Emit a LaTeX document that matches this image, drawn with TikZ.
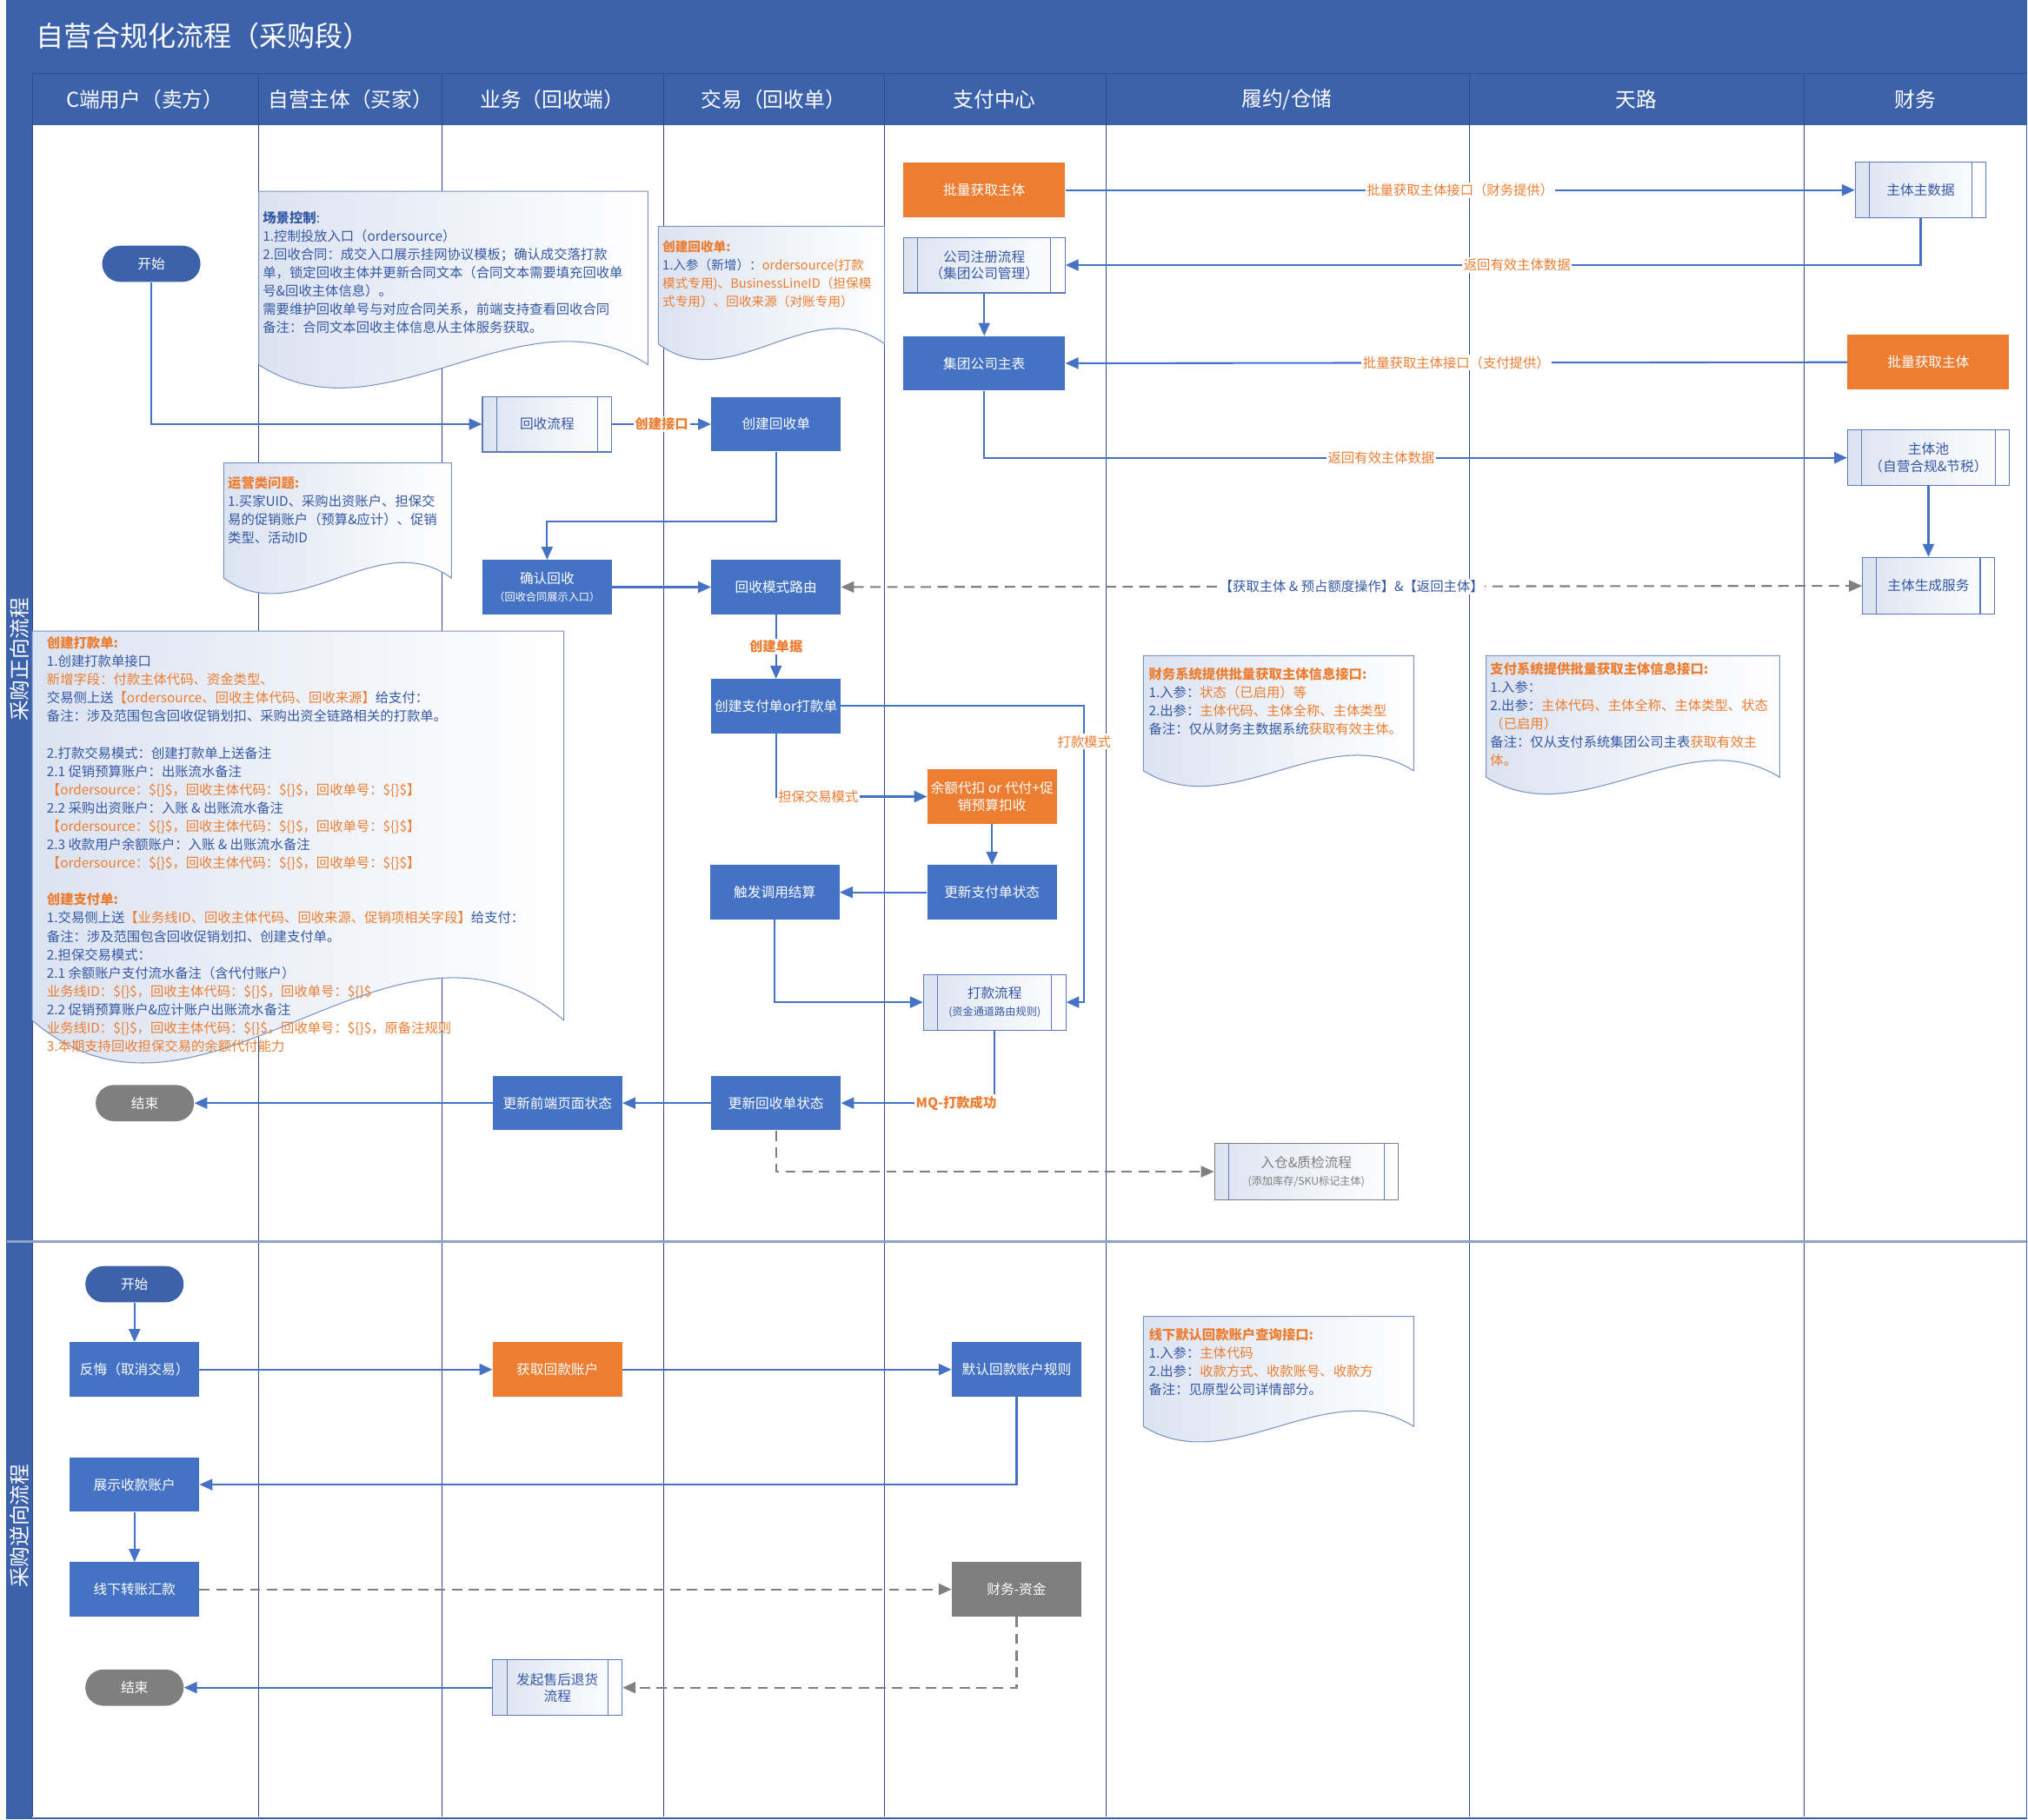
\documentclass[tikz,border=0pt]{standalone}
\usepackage{fontspec}
\setmainfont{Noto Sans CJK SC}
\usetikzlibrary{arrows.meta}
\definecolor{hdblue}{HTML}{3D62AC}
\definecolor{boxblue}{HTML}{4472C4}
\definecolor{boxorg}{HTML}{ED7D31}
\definecolor{boxgrey}{HTML}{7F7F7F}
\definecolor{colline}{HTML}{2F4B8C}
\definecolor{txtblue}{HTML}{3558A5}
\definecolor{txtorg}{HTML}{ED7D31}
\definecolor{notebd}{HTML}{7A92C6}
\definecolor{noteL}{HTML}{DCE3F1}
\definecolor{subbd}{HTML}{5B7BC0}
\definecolor{dashgrey}{HTML}{808080}
\definecolor{divcol}{HTML}{8FA2C6}
\newcommand{\ortx}[1]{\textcolor{txtorg}{#1}}
\newcommand{\docshape}[5]{%
  \pgfmathsetmacro\docW{#3-#1}%
  \pgfmathsetmacro\docB{#4-#5}%
  \pgfmathsetmacro\docC{3.46*#5}%
  \path[notebox] (#1,#2) -- (#3,#2) -- (#3,\docB) .. controls ({#1+0.68*\docW},{\docB-\docC}) and ({#1+0.32*\docW},{\docB+\docC}) .. (#1,\docB) -- cycle;}
\tikzset{
  blk/.style={rectangle, fill=boxblue, text=white, minimum width=3cm, minimum height=1.26cm, align=center, inner sep=1pt, font=\fontsize{9pt}{11pt}\selectfont},
  org/.style={blk, fill=boxorg},
  gry/.style={blk, fill=boxgrey},
  sub/.style={rectangle, draw=subbd, line width=0.6pt, left color=noteL, right color=white, text=txtblue, minimum width=3cm, minimum height=1.29cm, align=center, inner sep=1pt, font=\fontsize{9pt}{11pt}\selectfont,
    path picture={\draw[subbd, line width=0.6pt] ([xshift=0.33cm]path picture bounding box.north west) -- ([xshift=0.33cm]path picture bounding box.south west) ([xshift=-0.33cm]path picture bounding box.north east) -- ([xshift=-0.33cm]path picture bounding box.south east);}},
  term/.style={rectangle, rounded corners=0.42cm, fill=hdblue, text=white, minimum width=2.28cm, minimum height=0.84cm, font=\fontsize{9pt}{11pt}\selectfont},
  arr/.style={draw=boxblue, line width=1.2pt, -{Triangle[length=0.3cm,width=0.26cm]}},
  dsh/.style={draw=dashgrey, line width=1.2pt, dash pattern=on 0.24cm off 0.15cm, -{Triangle[length=0.3cm,width=0.26cm]}},
  lbl/.style={fill=white, text=txtorg, inner sep=1pt, font=\fontsize{8.8pt}{10pt}\selectfont},
  notebox/.style={draw=notebd, line width=0.6pt, left color=noteL, right color=white},
  ntxt/.style={anchor=north west, inner sep=0pt, align=left, text=txtblue, font=\fontsize{8.8pt}{12.1pt}\selectfont},
  hdtxt/.style={text=white, font=\fontsize{13.6pt}{16pt}\selectfont},
  small/.style={font=\fontsize{7pt}{8.5pt}\selectfont}
}
\begin{document}
\begin{tikzpicture}[x=0.03cm,y=-0.03cm]
\useasboundingbox (0,0) rectangle (1568,1407);
\fill[hdblue] (5,0) rectangle (1567,97);
\fill[hdblue] (5,97) rectangle (25,1406);
\draw[colline, line width=0.6pt] (25,57) -- (1567,57);
\foreach \cx in {25,200,342,513,684,855,1136,1395}
  \draw[colline, line width=0.7pt] (\cx,57) -- (\cx,1405);
\draw[divcol, line width=1.5pt] (5,960) -- (1567,960);
\draw[hdblue, line width=1pt] (5,0) rectangle (1567,1406);

\node[anchor=west, text=white, font=\fontsize{18.4pt}{21pt}\selectfont] (ttl) at (24,28) {自营合规化流程（采购段）};
\node[hdtxt] (hd1) at (112,77) {C端用户（卖方）};
\node[hdtxt] (hd2) at (271,77) {自营主体（买家）};
\node[hdtxt] (hd3) at (427,77) {业务（回收端）};
\node[hdtxt] (hd4) at (598,77) {交易（回收单）};
\node[hdtxt] (hd5) at (769,77) {支付中心};
\node[hdtxt] (hd6) at (995,77) {履约/仓储};
\node[hdtxt] (hd7) at (1265,77) {天路};
\node[hdtxt] (hd8) at (1481,77) {财务};
\node[hdtxt, rotate=90] (ln1) at (15,510) {采购正向流程};
\node[hdtxt, rotate=90] (ln2) at (15,1180) {采购逆向流程};

\docshape{200}{148}{501}{300}{18}
\docshape{509}{175}{684}{278}{12}
\docshape{173}{358}{349}{459}{12}
\docshape{25}{488}{436}{822}{33}
\docshape{884}{507}{1093}{608}{12}
\docshape{1149}{507}{1376}{614}{13}
\docshape{884}{1018}{1093}{1115}{12}

\node[ntxt] (n1) at (203,163) {\textbf{场景控制}:\\1.控制投放入口（ordersource）\\2.回收合同：成交入口展示挂网协议模板；确认成交落打款\\单，锁定回收主体并更新合同文本（合同文本需要填充回收单\\号\&回收主体信息）。\\需要维护回收单号与对应合同关系，前端支持查看回收合同\\备注：合同文本回收主体信息从主体服务获取。};
\node[ntxt, font=\fontsize{8.4pt}{12.1pt}\selectfont] (n2) at (512,186) {\textbf{\ortx{创建回收单:}}\\1.入参（新增）：\ortx{ordersource(打款}\\\ortx{模式专用)、BusinessLineID（担保模}\\\ortx{式专用）、回收来源（对账专用）}};
\node[ntxt] (n3) at (176,368) {\textbf{\ortx{运营类问题:}}\\1.买家UID、采购出资账户、担保交\\易的促销账户（预算\&应计）、促销\\类型、活动ID};
\node[ntxt] (n4) at (36,492) {\textbf{\ortx{创建打款单:}}\\1.创建打款单接口\\\ortx{新增字段：付款主体代码、资金类型、}\\交易侧上送\ortx{【ordersource、回收主体代码、回收来源】}给支付：\\备注：涉及范围包含回收促销划扣、采购出资全链路相关的打款单。\\[12.1pt]2.打款交易模式：创建打款单上送备注\\2.1 促销预算账户：出账流水备注\\\ortx{【ordersource：\$\{\}\$，回收主体代码：\$\{\}\$，回收单号：\$\{\}\$】}\\2.2 采购出资账户：入账 \& 出账流水备注\\\ortx{【ordersource：\$\{\}\$，回收主体代码：\$\{\}\$，回收单号：\$\{\}\$】}\\2.3 收款用户余额账户：入账 \& 出账流水备注\\\ortx{【ordersource：\$\{\}\$，回收主体代码：\$\{\}\$，回收单号：\$\{\}\$】}\\[12.1pt]\textbf{\ortx{创建支付单:}}\\1.交易侧上送\ortx{【业务线ID、回收主体代码、回收来源、促销项相关字段】}给支付：\\备注：涉及范围包含回收促销划扣、创建支付单。\\2.担保交易模式：\\2.1 余额账户支付流水备注（含代付账户）\\\ortx{业务线ID：\$\{\}\$，回收主体代码：\$\{\}\$，回收单号：\$\{\}\$}\\2.2 促销预算账户\&应计账户出账流水备注\\\ortx{业务线ID：\$\{\}\$，回收主体代码：\$\{\}\$，回收单号：\$\{\}\$，原备注规则}\\\ortx{3.本期支持回收担保交易的余额代付能力}};
\node[ntxt] (n5) at (888,516) {\textbf{\ortx{财务系统提供批量获取主体信息接口:}}\\1.入参：\ortx{状态（已启用）等}\\2.出参：\ortx{主体代码、主体全称、主体类型}\\备注：仅从财务主数据系统\ortx{获取有效主体。}};
\node[ntxt] (n6) at (1152,512) {\textbf{\ortx{支付系统提供批量获取主体信息接口:}}\\1.入参：\\2.出参：\ortx{主体代码、主体全称、主体类型、状态}\\\ortx{（已启用）}\\备注：仅从支付系统集团公司主表\ortx{获取有效主}\\\ortx{体。}};
\node[ntxt] (n7) at (888,1027) {\textbf{\ortx{线下默认回款账户查询接口:}}\\1.入参：\ortx{主体代码}\\2.出参：\ortx{收款方式、收款账号、收款方}\\备注：见原型公司详情部分。};

\node[term] (st1) at (117,204) {开始};
\node[sub] (hslc) at (423,328) {回收流程};
\node[blk] (cjhsd) at (600,328) {创建回收单};
\node[blk] (qrhs) at (423,454) {确认回收\\{\fontsize{7pt}{8.5pt}\selectfont （回收合同展示入口）}};
\node[blk] (hsly) at (600,454) {回收模式路由};
\node[blk] (cjzfd) at (600,546) {创建支付单or打款单};
\node[org] (yedk) at (767,616) {余额代扣 or 代付+促\\销预算扣收};
\node[blk] (cfjs) at (599,690) {触发调用结算};
\node[blk] (gxzfd) at (767,690) {更新支付单状态};
\node[sub, minimum width=3.3cm] (dklc) at (769,775) {打款流程\\{\fontsize{7pt}{8.5pt}\selectfont (资金通道路由规则)}};
\node[blk] (gxhsd) at (600,853) {更新回收单状态};
\node[blk] (gxqd) at (431,853) {更新前端页面状态};
\node[term, fill=boxgrey] (end1) at (112,853) {结束};
\node[sub, draw=boxgrey, text=boxgrey, minimum width=4.26cm, minimum height=1.32cm] (rczj) at (1010,906) {入仓\&质检流程\\{\fontsize{7pt}{8.5pt}\selectfont (添加库存/SKU标记主体)}};
\node[org, minimum width=3.75cm] (pbatch) at (761,147) {批量获取主体};
\node[sub, minimum width=3.75cm] (gszc) at (761,205) {公司注册流程\\（集团公司管理）};
\node[blk, minimum width=3.75cm] (jtzb) at (761,281) {集团公司主表};
\node[sub, minimum width=3.03cm] (ztzsj) at (1485,147) {主体主数据};
\node[org, minimum width=3.75cm] (fbatch) at (1491,280) {批量获取主体};
\node[sub, minimum width=3.75cm] (ztc) at (1491,354) {主体池\\（自营合规\&节税）};
\node[sub, minimum width=3.06cm, minimum height=1.32cm] (ztsc) at (1491,453) {主体生成服务};

\node[term] (st2) at (104,993) {开始};
\node[blk] (fh) at (104,1059) {反悔（取消交易）};
\node[org] (hqhk) at (431,1059) {获取回款账户};
\node[blk] (mrhk) at (786,1059) {默认回款账户规则};
\node[blk] (zssk) at (104,1148) {展示收款账户};
\node[blk] (xxzz) at (104,1229) {线下转账汇款};
\node[gry] (cwzj) at (786,1229) {财务-资金};
\node[sub] (fqsh) at (431,1305) {发起售后退货\\流程};
\node[term, fill=boxgrey] (end2) at (104,1305) {结束};

\draw[arr] (st1) |- (hslc);
\draw[arr] (hslc) -- (cjhsd) node[lbl, midway] {\textbf{创建接口}};
\draw[arr] (cjhsd.south) -- ++(0,54) -| (qrhs.north);
\draw[arr] (qrhs) -- (hsly);
\draw[arr] (hsly) -- (cjzfd) node[lbl, midway] {\textbf{创建单据}};
\draw[arr] (cjzfd.east) -- ++(188,0) |- (dklc.east) node[lbl, pos=0.06] {打款模式};
\draw[arr] (cjzfd.south) |- (yedk.west) node[lbl, pos=0.64] {担保交易模式};
\draw[arr] (yedk) -- (gxzfd);
\draw[arr] (gxzfd) -- (cfjs);
\draw[arr] (cfjs.south) |- (dklc.west);
\draw[arr] (dklc.south) |- (gxhsd.east) node[lbl, pos=0.625] {\textbf{MQ-打款成功}};
\draw[arr] (gxhsd) -- (gxqd);
\draw[arr] (gxqd) -- (end1);
\draw[dsh] (gxhsd.south) |- (rczj.west);
\draw[arr] (pbatch) -- (ztzsj) node[lbl, midway] {批量获取主体接口（财务提供）};
\draw[arr] (ztzsj.south) |- (gszc.east) node[lbl, pos=0.736] {返回有效主体数据};
\draw[arr] (gszc) -- (jtzb);
\draw[arr] (fbatch) -- (jtzb) node[lbl, midway] {批量获取主体接口（支付提供）};
\draw[arr] (jtzb.south) |- (ztc.west) node[lbl, pos=0.73] {返回有效主体数据};
\draw[arr] (ztc) -- (ztsc);
\draw[dsh, {Triangle[length=0.3cm,width=0.26cm]}-{Triangle[length=0.3cm,width=0.26cm]}] (hsly) -- (ztsc) node[lbl, midway, text=txtblue] {【获取主体 \& 预占额度操作】\&【返回主体】};

\draw[arr] (st2) -- (fh);
\draw[arr] (fh) -- (hqhk);
\draw[arr] (hqhk) -- (mrhk);
\draw[arr] (mrhk.south) |- (zssk.east);
\draw[arr] (zssk) -- (xxzz);
\draw[dsh] (xxzz) -- (cwzj);
\draw[dsh] (cwzj.south) |- (fqsh.east);
\draw[arr] (fqsh) -- (end2);
\end{tikzpicture}
\end{document}
